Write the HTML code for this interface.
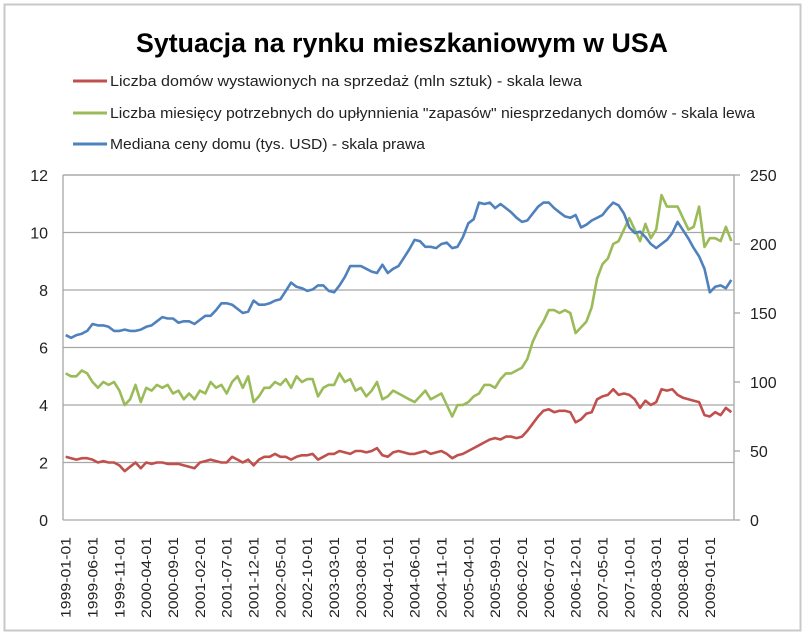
<!DOCTYPE html>
<html><head><meta charset="utf-8"><style>
body{margin:0;background:#fff;width:805px;height:636px;overflow:hidden}
svg{display:block;font-family:"Liberation Sans","DejaVu Sans",sans-serif}
</style></head><body>
<svg id="chart" width="805" height="636" viewBox="0 0 805 636">
<rect x="4.5" y="4.5" width="796" height="626" fill="#fff" stroke="#c8c8c8" stroke-width="2"/>
<text x="402" y="52" text-anchor="middle" font-size="27" font-weight="bold" fill="#000" textLength="532" lengthAdjust="spacingAndGlyphs">Sytuacja na rynku mieszkaniowym w USA</text>
<g font-size="14.5" fill="#222">
<g><line x1="73" y1="81" x2="107" y2="81" stroke="#c0504d" stroke-width="3"/><text x="110" y="86" textLength="472" lengthAdjust="spacingAndGlyphs">Liczba domów wystawionych na sprzedaż (mln sztuk) - skala lewa</text></g>
<g><line x1="73" y1="113" x2="107" y2="113" stroke="#9bbb59" stroke-width="3"/><text x="110" y="118" textLength="645" lengthAdjust="spacingAndGlyphs">Liczba miesięcy potrzebnych do upłynnienia "zapasów" niesprzedanych domów - skala lewa</text></g>
<g><line x1="73" y1="144" x2="107" y2="144" stroke="#4f81bd" stroke-width="3"/><text x="110" y="149" textLength="315" lengthAdjust="spacingAndGlyphs">Mediana ceny domu (tys. USD) - skala prawa</text></g>
</g>
<g id="grid"></g><g id="axes"></g><g id="series"></g>
</svg>
<script>
const leftTicks=[0,2,4,6,8,10,12];
const rightTicks=[0,50,100,150,200,250];
const listings=[2.2,2.15,2.1,2.15,2.15,2.1,2.0,2.05,2.0,2.0,1.9,1.7,1.85,2.0,1.8,2.0,1.95,2.0,2.0,1.95,1.95,1.95,1.9,1.85,1.8,2.0,2.05,2.1,2.05,2.0,2.0,2.2,2.1,2.0,2.1,1.9,2.1,2.2,2.2,2.3,2.2,2.2,2.1,2.2,2.25,2.25,2.3,2.1,2.2,2.3,2.3,2.4,2.35,2.3,2.4,2.4,2.35,2.4,2.5,2.25,2.2,2.35,2.4,2.35,2.3,2.3,2.35,2.4,2.3,2.35,2.4,2.3,2.15,2.25,2.3,2.4,2.5,2.6,2.7,2.8,2.85,2.8,2.9,2.9,2.85,2.9,3.1,3.35,3.6,3.8,3.85,3.75,3.8,3.8,3.75,3.4,3.5,3.7,3.75,4.2,4.3,4.35,4.55,4.35,4.4,4.35,4.2,3.9,4.15,4.0,4.1,4.55,4.5,4.55,4.35,4.25,4.2,4.15,4.1,3.65,3.6,3.75,3.65,3.9,3.75];
const monthsSupply=[5.1,5.0,5.0,5.2,5.1,4.8,4.6,4.8,4.7,4.8,4.5,4.0,4.2,4.7,4.1,4.6,4.5,4.7,4.6,4.7,4.4,4.5,4.2,4.4,4.2,4.5,4.4,4.8,4.6,4.7,4.4,4.8,5.0,4.6,5.0,4.1,4.3,4.6,4.6,4.8,4.7,4.9,4.6,5.0,4.8,4.9,4.9,4.3,4.6,4.7,4.7,5.1,4.8,4.9,4.5,4.6,4.3,4.5,4.8,4.2,4.3,4.5,4.4,4.3,4.2,4.1,4.3,4.5,4.2,4.3,4.4,4.0,3.6,4.0,4.0,4.1,4.3,4.4,4.7,4.7,4.6,4.9,5.1,5.1,5.2,5.3,5.6,6.2,6.6,6.9,7.3,7.3,7.2,7.3,7.2,6.5,6.7,6.9,7.4,8.4,8.9,9.1,9.6,9.7,10.1,10.5,10.1,9.7,10.3,9.8,10.1,11.3,10.9,10.9,10.9,10.5,10.1,10.2,10.9,9.5,9.8,9.8,9.7,10.2,9.7];
const medianPrice=[134,132,134,135,137,142,141,141,140,137,137,138,137,137,138,140,141,144,147,146,146,143,144,144,142,145,148,148,152,157,157,156,153,150,151,159,156,156,157,159,160,166,172,169,168,166,167,170,170,166,165,170,176,184,184,184,182,180,179,185,179,182,184,190,196,203,202,198,198,197,200,201,197,198,205,215,218,230,229,230,226,229,226,223,219,216,217,222,227,230,230,226,223,220,219,221,212,214,217,219,221,226,230,228,222,212,208,209,205,200,197,200,203,208,216,210,204,197,191,182,165,169,170,168,174];

const NS='http://www.w3.org/2000/svg';
const X0=63,X1=734,Y0=520,Y1=175;
const N=medianPrice.length;
function xPos(i){return X0+(i+0.5)*(X1-X0)/N;}
function yLeft(v){return Y0-(v/12)*(Y0-Y1);}
function yRight(v){return Y0-(v/250)*(Y0-Y1);}
function mk(tag,attrs,parent){const e=document.createElementNS(NS,tag);for(const k in attrs)e.setAttribute(k,attrs[k]);parent.appendChild(e);return e;}
function label(d){const y=1999+Math.floor(d/12),m=d%12+1;return y+'-'+(m<10?'0':'')+m+'-01';}

const grid=document.getElementById('grid'),axes=document.getElementById('axes'),series=document.getElementById('series');
leftTicks.forEach(t=>{
  if(t>0){const g=mk('line',{x1:X0,x2:X1,y1:yLeft(t),y2:yLeft(t),stroke:'#a6a6a6','stroke-width':1.3},grid);
  
  }
  const tx=mk('text',{x:X0-15,y:yLeft(t)+6,'text-anchor':'end','font-size':16,fill:'#222'},axes);
  tx.textContent=t;
  
  
});
rightTicks.forEach(t=>{
  const tk=mk('line',{x1:X1,x2:X1+6,y1:yRight(t),y2:yRight(t),stroke:'#a6a6a6','stroke-width':1.3},axes);
  
  
  const tx=mk('text',{x:X1+16,y:yRight(t)+6,'font-size':16,fill:'#222'},axes);
  tx.textContent=t;
  
  
});
const la=mk('line',{x1:X0,x2:X0,y1:Y1,y2:Y0,stroke:'#a6a6a6','stroke-width':1.3},axes);


const ra=mk('line',{x1:X1,x2:X1,y1:Y1,y2:Y0,stroke:'#a6a6a6','stroke-width':1.3},axes);


const xa=mk('line',{x1:X0,x2:X1,y1:Y0,y2:Y0,stroke:'#a6a6a6','stroke-width':1.3},axes);


mk('line',{x1:X0,x2:X1,y1:Y1,y2:Y1,stroke:'#a6a6a6','stroke-width':1.3},grid);
for(let d=0;d<N;d+=5){
  const x=xPos(d);
  const tx=mk('text',{x:0,y:0,'font-size':14,fill:'#222','text-anchor':'end',textLength:81,lengthAdjust:'spacingAndGlyphs',transform:'translate('+(x+5)+',537) rotate(-90)'},axes);
  tx.textContent=label(d);
  
  
}
function line(arr,yf,color,name){
  const p=arr.map((v,i)=>(i?'L':'M')+xPos(i).toFixed(1)+','+yf(v).toFixed(1)).join('');
  const e=mk('path',{d:p,fill:'none',stroke:color,'stroke-width':2.6,'stroke-linejoin':'round'},series);
  
  
}
line(listings,yLeft,'#c0504d','listings-line');
line(monthsSupply,yLeft,'#9bbb59','months-supply-line');
line(medianPrice,yRight,'#4f81bd','median-price-line');
</script>
</body></html>
